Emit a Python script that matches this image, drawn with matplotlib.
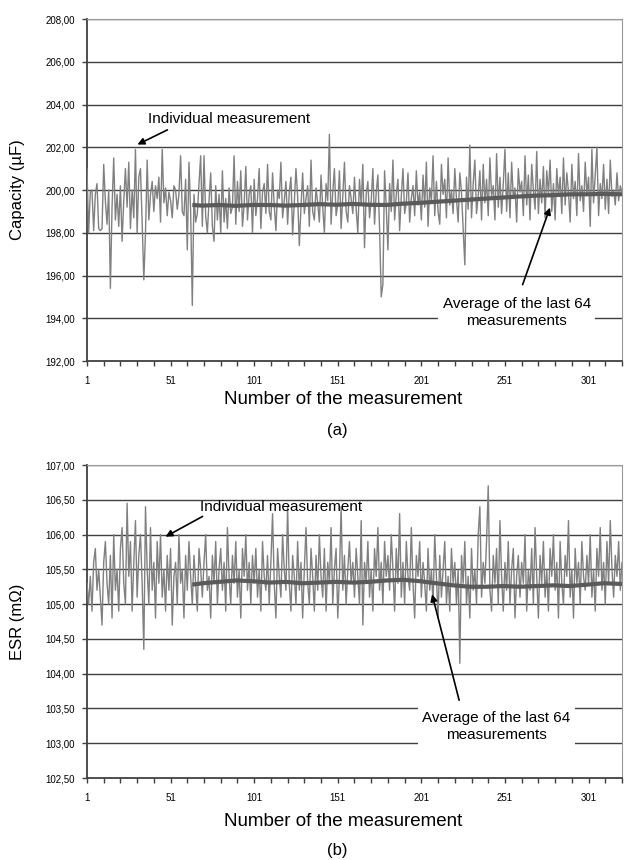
import numpy as np
import matplotlib
matplotlib.use("Agg")
import matplotlib.pyplot as plt
from matplotlib.ticker import FuncFormatter, FixedLocator

plt.rcParams['font.family'] = ['Liberation Sans', 'DejaVu Sans']

capacity = [
    201.0, 198.0, 199.9, 200.0, 198.1, 199.8, 200.3, 198.2, 198.1, 198.2, 201.2, 199.5, 198.4, 200.0, 195.4, 199.2, 201.5, 198.6, 199.8, 198.3,
    200.2, 197.6, 199.5, 201.0, 199.2, 201.3, 198.2, 200.0, 198.7, 201.9, 198.0, 200.6, 201.0, 198.5, 195.8, 198.0, 201.4, 198.6, 199.8, 200.4,
    199.0, 200.2, 199.6, 200.6, 198.5, 201.9, 199.4, 200.1, 198.8, 199.9, 199.5, 198.7, 200.2, 200.0, 199.1, 199.8, 201.6, 199.0, 198.8, 200.5,
    197.2, 201.3, 199.0, 194.6, 199.8, 198.5, 198.9, 200.3, 201.6, 198.3, 201.6, 198.8, 198.0, 199.5, 200.8, 198.3, 197.6, 200.2, 198.6, 199.8,
    198.0, 200.9, 198.5, 199.6, 198.2, 200.1, 198.9, 199.2, 201.6, 198.4, 200.4, 199.0, 200.9, 198.3, 199.3, 201.1, 198.6, 199.8, 200.2, 198.0,
    200.5, 198.8, 199.6, 201.0, 198.2, 199.9, 200.3, 198.9, 201.2, 199.0, 198.6, 200.8, 199.3, 198.1, 200.0, 199.6, 201.3, 198.7, 199.5, 200.4,
    198.4, 199.9, 200.6, 197.9, 199.4, 201.0, 199.7, 197.4, 199.2, 200.8, 198.9, 199.6, 200.2, 198.3, 201.4, 199.0, 198.6, 200.1, 199.4, 198.5,
    200.7, 199.2, 198.0, 200.3, 199.5, 202.6, 198.4, 199.9, 201.0, 198.8, 199.3, 200.9, 198.2, 199.7, 201.3, 199.0, 198.5, 200.2, 199.6, 198.9,
    200.6, 199.1, 198.0, 200.5, 199.3, 201.2, 197.3, 199.8, 200.4, 198.7, 199.5, 201.0, 198.4, 199.9, 200.7, 198.2, 195.0, 195.6, 200.9, 199.2,
    197.2, 200.3, 199.0, 201.4, 198.6, 199.8, 200.5, 198.1, 199.7, 201.0, 198.9, 199.4, 200.8, 198.5, 199.6, 200.2, 198.8, 200.9, 199.3, 199.9,
    198.6, 200.7, 199.2, 201.3, 198.3, 200.1, 199.5, 201.6, 198.8, 200.4, 199.0, 198.4, 201.2, 199.8, 200.5, 198.7, 201.5, 199.3, 200.0, 198.9,
    201.0, 199.6, 198.5, 200.8, 199.9, 198.2, 196.5, 200.6, 199.1, 202.1, 198.7, 200.3, 201.4, 198.9, 199.7, 200.9, 198.6, 201.2, 199.4, 200.5,
    198.8, 201.5, 199.7, 200.2, 198.6, 201.7, 199.2, 200.6, 198.9, 200.3, 201.9, 199.0, 200.8, 198.7, 201.3, 199.6, 200.1, 198.5, 201.0, 199.9,
    200.4, 198.8, 201.6, 199.3, 200.7, 198.6, 201.2, 200.0, 199.1, 201.8, 198.9, 200.5, 199.4, 201.1, 198.7, 200.9, 199.8, 201.4, 199.0, 200.3,
    198.6, 201.0, 199.7, 200.6, 198.9, 201.5, 199.3, 200.8, 199.9, 198.5, 201.2, 199.6, 200.4, 198.8, 201.7, 199.5, 200.2, 199.0, 201.3, 199.8,
    200.6, 198.3, 201.9, 199.4, 200.7, 202.0, 198.8, 200.3, 199.6, 201.2, 199.1, 200.5, 198.9, 201.4, 199.7, 200.0, 199.3, 200.8, 199.5, 200.2, 199.9,
]

# running average of the last 64 (read at a few points)
cap_avg_x = [64, 70, 80, 90, 100, 110, 120, 130, 140, 150, 160, 170, 180, 190, 200, 210, 220, 230, 240, 250, 260, 270, 280, 290, 300, 310, 321]
cap_avg = [199.30, 199.27, 199.30, 199.26, 199.30, 199.30, 199.27, 199.30, 199.34, 199.31, 199.35, 199.31, 199.30, 199.36, 199.40,
           199.45, 199.50, 199.55, 199.60, 199.65, 199.70, 199.74, 199.76, 199.80, 199.80, 199.82, 199.80]

esr = [
    105.3, 105.0, 105.4, 104.9, 105.6, 105.8, 105.2, 105.5, 105.1, 104.7, 105.6, 105.9, 105.3, 105.0, 105.7, 104.8, 106.0, 105.2, 105.5, 104.9,
    105.8, 106.1, 105.3, 105.0, 106.45, 105.4, 105.9, 104.9, 105.6, 106.2, 105.1, 105.7, 106.0, 105.3, 104.35, 106.4, 105.5, 105.0, 106.1, 105.2,
    105.6, 104.8, 105.9, 105.3, 106.0, 105.1, 105.5, 104.9, 105.7, 105.2, 105.8, 104.7, 105.4, 105.6, 105.0, 106.0, 105.3, 105.5, 104.8, 105.7,
    105.2, 105.9, 105.4, 105.0, 105.7, 105.3, 104.9, 105.8, 105.5, 105.1, 105.6, 106.0, 105.2, 105.4, 104.8, 105.7, 105.3, 105.9, 105.0, 105.5,
    105.8, 105.2, 105.6, 104.9, 106.1, 105.4, 105.0, 105.7, 105.3, 105.9, 105.1, 105.5, 104.8, 105.8, 105.4, 106.0, 105.2, 105.6, 105.0, 105.7,
    105.3, 105.8, 105.1, 105.5, 104.9, 105.9, 105.4, 105.2, 105.7, 105.0, 105.6, 106.3, 105.3, 104.8, 105.8, 105.4, 105.1, 106.0, 105.5, 105.2,
    106.4, 105.3, 104.9, 105.7, 105.4, 105.0, 105.9, 105.2, 105.6, 104.8, 105.5, 106.1, 105.3, 105.0, 105.8, 105.4, 104.9, 105.7, 105.2, 106.0,
    105.4, 105.1, 105.8, 104.9, 105.6, 105.3, 106.1, 105.0, 105.5, 105.8, 104.8, 105.4, 106.4, 105.2, 105.7, 105.0, 105.5, 105.9, 105.3, 105.6,
    105.1, 105.8, 105.4, 105.0, 106.2, 104.7, 105.6, 105.3, 105.9, 105.1, 105.5, 104.9, 105.8, 105.4, 106.1, 105.2, 105.6, 105.0, 105.9, 105.4,
    105.7, 105.2, 106.0, 105.5, 104.9, 105.8, 105.3, 106.3, 105.1, 105.6, 105.0, 105.9, 105.4, 105.2, 106.1, 105.3, 104.8, 105.7, 105.4, 105.9,
    105.1, 105.6, 105.3, 104.9, 105.8, 105.2, 105.5, 105.0, 106.0, 105.4, 104.8, 105.7, 105.1, 105.5, 105.9, 105.0, 105.4, 104.9, 105.8, 105.3,
    105.6, 105.0, 105.5, 104.15, 105.7, 105.3, 105.9, 105.0, 105.4, 104.8, 105.8, 105.2, 105.5, 105.0, 106.0, 106.4, 105.1, 105.6, 105.3, 105.9,
    106.7, 105.2, 104.9, 105.7, 105.3, 105.8, 105.0, 106.2, 105.4, 104.9, 105.6, 105.2, 105.9, 105.0, 105.5, 105.8, 104.8, 105.4, 105.7, 105.1,
    105.6, 105.3, 106.0, 104.9, 105.5, 105.2, 105.8, 105.0, 106.1, 105.4, 104.8, 105.7, 105.3, 105.9, 105.1, 105.5, 104.9, 105.8, 105.4, 106.0,
    105.2, 105.6, 104.8, 105.9, 105.3, 105.0, 105.7, 105.4, 106.2, 105.1, 105.5, 104.8, 105.8, 105.3, 105.6, 105.0, 105.9, 105.4, 105.2, 105.7,
    105.3, 106.0, 105.1, 105.5, 104.9, 105.8, 105.4, 106.1, 105.2, 105.6, 105.0, 105.9, 105.3, 106.2, 105.5, 105.1, 105.7, 105.4, 105.9, 105.2, 105.6,
]

esr_avg_x = [64, 70, 80, 90, 100, 110, 120, 130, 140, 150, 160, 170, 180, 190, 200, 210, 220, 230, 240, 250, 260, 270, 280, 290, 300, 310, 321]
esr_avg = [105.28, 105.30, 105.32, 105.34, 105.33, 105.31, 105.32, 105.30, 105.31, 105.32, 105.31, 105.32, 105.34, 105.35, 105.33,
           105.30, 105.27, 105.25, 105.25, 105.26, 105.25, 105.26, 105.27, 105.26, 105.28, 105.30, 105.29]

x_labels = [1, 51, 101, 151, 201, 251, 301]

grid_c = '#404040'
line_c = '#808080'
avg_c = '#5a5a5a'

W, H = 633, 860


def comma(v, pos):
    return ('%.2f' % v).replace('.', ',')


def setup(ax, ylo, yhi, ystep):
    ax.set_xlim(1, 321)
    ax.set_ylim(ylo, yhi)
    yt = np.arange(ylo, yhi + ystep / 2, ystep)
    ax.set_yticks(yt)
    ax.yaxis.set_major_formatter(FuncFormatter(comma))
    ax.set_xticks(x_labels)
    ax.xaxis.set_minor_locator(FixedLocator(np.arange(1, 322, 10)))
    ax.tick_params(axis='both', which='both', direction='out', length=3.5, width=1,
                   color=grid_c, labelsize=7, pad=5)
    ax.tick_params(axis='x', which='major', length=3.5, pad=7)
    for y in yt[1:]:
        ax.axhline(y, color=grid_c, lw=1, zorder=1)
    ax.spines['left'].set_color(grid_c)
    ax.spines['left'].set_linewidth(1.3)
    ax.spines['bottom'].set_color(grid_c)
    ax.spines['bottom'].set_linewidth(1.3)
    ax.spines['top'].set_color('#999999')
    ax.spines['right'].set_color('#999999')


def fig_text(x, y, s, **kw):
    # place text by pixel position from the top-left corner
    fig.text(x / W, 1 - y / H, s, ha='center', va='center', **kw)


fig = plt.figure(figsize=(6.33, 8.6), dpi=100)
ax1 = fig.add_axes([0.1374, 0.5802, 0.8452, 0.3977])
ax2 = fig.add_axes([0.1374, 0.0953, 0.8452, 0.3640])

n = np.arange(1, len(capacity) + 1)
setup(ax1, 192, 208, 2)
ax1.plot(n, capacity, color=line_c, lw=1, zorder=3)
ax1.plot(cap_avg_x, cap_avg, color=avg_c, lw=3, zorder=4, solid_capstyle='butt')
ax1.annotate('', xy=(29.7, 202.07), xytext=(50.6, 202.87),
             arrowprops=dict(arrowstyle='-|>', color='black', lw=1.2, mutation_scale=10), zorder=6)
ax1.text(37.5, 203.3, 'Individual measurement', fontsize=11, ha='left', va='center', zorder=6)
ax1.text(258, 194.28, 'Average of the last 64\nmeasurements', fontsize=11, ha='center', va='center',
         linespacing=1.25, zorder=5, bbox=dict(facecolor='white', edgecolor='none', pad=3))
ax1.annotate('', xy=(278.5, 199.3), xytext=(261, 195.45),
             arrowprops=dict(arrowstyle='-|>', color='black', lw=1.2, mutation_scale=10), zorder=6)

n2 = np.arange(1, len(esr) + 1)
setup(ax2, 102.5, 107.0, 0.5)
ax2.plot(n2, esr, color=line_c, lw=1, zorder=3)
ax2.plot(esr_avg_x, esr_avg, color=avg_c, lw=3, zorder=4, solid_capstyle='butt')
ax2.annotate('', xy=(46.5, 105.95), xytext=(71.6, 106.28),
             arrowprops=dict(arrowstyle='-|>', color='black', lw=1.2, mutation_scale=10), zorder=6)
ax2.text(68.6, 106.4, 'Individual measurement', fontsize=11, ha='left', va='center', zorder=6)
ax2.text(246, 103.24, 'Average of the last 64\nmeasurements', fontsize=11, ha='center', va='center',
         linespacing=1.25, zorder=5, bbox=dict(facecolor='white', edgecolor='none', pad=3))
ax2.annotate('', xy=(207, 105.18), xytext=(224, 103.58),
             arrowprops=dict(arrowstyle='-|>', color='black', lw=1.2, mutation_scale=10), zorder=6)

# axis titles and panel tags
fig_text(18, 190, 'Capacity (µF)', fontsize=12, rotation=90)
fig_text(343, 400, 'Number of the measurement', fontsize=13.5)
fig_text(337, 431, '(a)', fontsize=12)
fig_text(18, 622, 'ESR (mΩ)', fontsize=12, rotation=90)
fig_text(343, 822, 'Number of the measurement', fontsize=13.5)
fig_text(337, 850, '(b)', fontsize=12)

fig.savefig('out.png', dpi=100)
